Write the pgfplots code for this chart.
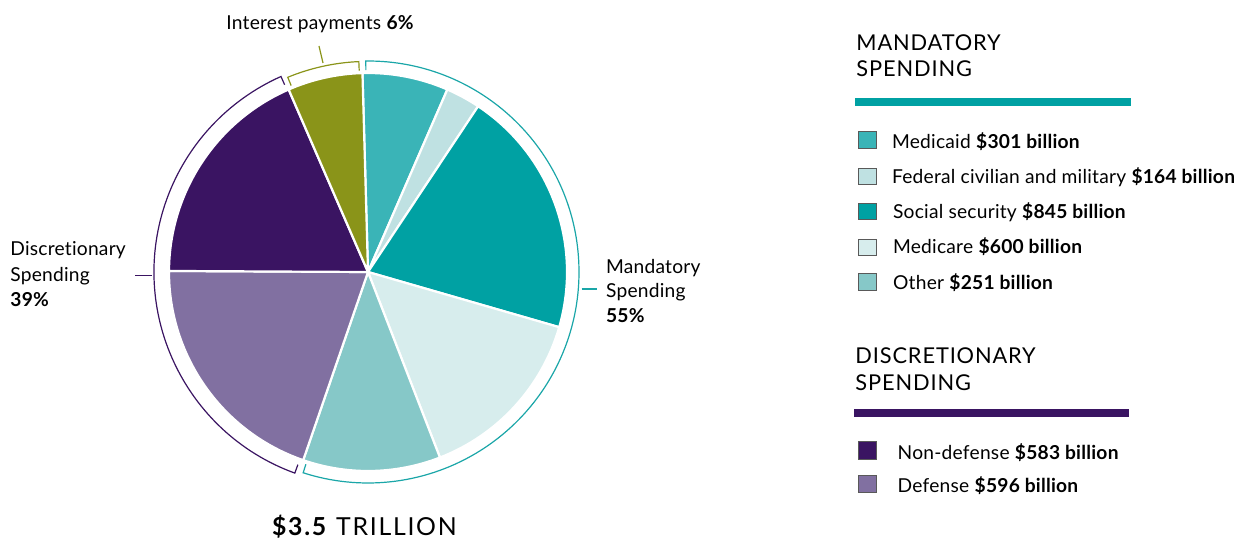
\documentclass[border=0pt]{standalone}
\usepackage{pgfplots}
\pgfplotsset{compat=1.18}
\usepackage{fontspec}
\setmainfont{Lato}[Ligatures={NoCommon}]
\newfontfamily\legfont{Lato}[LetterSpace=1.2, Ligatures={NoCommon}]
\newfontfamily\headfont{Lato}[LetterSpace=4, Ligatures={NoCommon}]
\newfontfamily\titlefont{Lato}[LetterSpace=7, Ligatures={NoCommon}]
\definecolor{cMedicaid}{HTML}{3AB4B7}
\definecolor{cFederal}{HTML}{BFE1E2}
\definecolor{cSocial}{HTML}{00A1A3}
\definecolor{cMedicare}{HTML}{D7EDED}
\definecolor{cOther}{HTML}{86C8C8}
\definecolor{cNonDef}{HTML}{3A1462}
\definecolor{cDef}{HTML}{8170A1}
\definecolor{cInterest}{HTML}{8A9419}
\definecolor{cTealLine}{HTML}{1AA6A8}
\definecolor{cText}{HTML}{262324}
% slice: start angle, end angle (as drawn), colour
\newcommand{\slice}[3]{\fill[#3, draw=white, line width=1.1pt] (axis cs:368,272) -- ++(#1:99.5pt) arc[start angle=#1, end angle=#2, radius=99.5pt] -- cycle;}
% bracket: start, end, radius(pt), colour
\newcommand{\bracket}[4]{\draw[#4, line width=0.6pt] (axis cs:368,272) ++(#1:{#3-4.5pt}) -- ++(#1:4.5pt) arc[start angle=#1, end angle=#2, radius=#3] -- ++(#2:-4.5pt);}
\newcommand{\legsq}[3]{\filldraw[fill=#3, draw=black!65, line width=0.4pt] (axis cs:858.5,#1) rectangle (axis cs:876,#2);}
\tikzset{lbl/.style={anchor=base west, inner sep=0pt, font=\legfont\fontsize{9.6pt}{11pt}\selectfont},
  hdr/.style={anchor=base west, inner sep=0pt, font=\headfont\fontsize{10.9pt}{13pt}\selectfont}}
\begin{document}
\begin{tikzpicture}
\useasboundingbox (0,0) rectangle (620.5pt,269.5pt);
\begin{axis}[at={(0,0)}, anchor=south west, x=0.5pt, y=0.5pt,
  xmin=0, xmax=1241, ymin=0, ymax=539, y dir=reverse,
  hide axis, clip=false,
  every node/.append style={text=cText}]
% pie slices (start angle, end angle)
\slice{91.6}{66.5}{cMedicaid}
\slice{66.5}{56.4}{cFederal}
\slice{56.4}{-16.1}{cSocial}
\slice{-16.1}{-68.8}{cMedicare}
\slice{-68.8}{-109}{cOther}
\slice{-109}{-180.3}{cDef}
\slice{179.7}{113.5}{cNonDef}
\slice{113.5}{91.6}{cInterest}
% brackets
\bracket{90.6}{-107.9}{105.5pt}{cTealLine}
\bracket{112.4}{92.5}{105.3pt}{cInterest}
\bracket{250}{114}{107pt}{cNonDef}
\draw[cTealLine, line width=0.6pt] (axis cs:581.7,289) -- (axis cs:597,289);
\draw[cNonDef, line width=0.6pt] (axis cs:135,275.7) -- (axis cs:152,275.7);
\draw[cInterest, line width=0.6pt] (axis cs:319,46) -- (axis cs:323,63);
% labels
\node[lbl] at (axis cs:226,29.3) {Interest payments \textbf{6\%}};
\node[lbl] at (axis cs:10,256) {Discretionary};
\node[lbl] at (axis cs:10,282) {Spending};
\node[lbl] at (axis cs:10,307) {\textbf{39\%}};
\node[lbl] at (axis cs:605.7,274) {Mandatory};
\node[lbl] at (axis cs:605.7,297.5) {Spending};
\node[lbl] at (axis cs:605.7,322.5) {\textbf{55\%}};
\node[anchor=base west, inner sep=0pt, font=\titlefont\fontsize{12.4pt}{14pt}\selectfont] at (axis cs:271.7,535) {\textbf{\$3.5} TRILLION};
% legend: mandatory
\node[hdr] at (axis cs:856,50.7) {MANDATORY};
\node[hdr] at (axis cs:856,76.7) {SPENDING};
\fill[cSocial] (axis cs:855,98.3) rectangle (axis cs:1130.7,106);
\legsq{131.7}{148.3}{cMedicaid}
\legsq{168}{184.5}{cFederal}
\legsq{203}{219.5}{cSocial}
\legsq{239}{255.5}{cMedicare}
\legsq{273.5}{290}{cOther}
\node[lbl] at (axis cs:891.7,148.3) {Medicaid \textbf{\$301 billion}};
\node[lbl] at (axis cs:891.7,183.3) {Federal civilian and military \textbf{\$164 billion}};
\node[lbl] at (axis cs:892.7,218.3) {Social security \textbf{\$845 billion}};
\node[lbl] at (axis cs:892.7,254) {Medicare \textbf{\$600 billion}};
\node[lbl] at (axis cs:892.7,289.3) {Other \textbf{\$251 billion}};
% legend: discretionary
\node[hdr] at (axis cs:855,364) {DISCRETIONARY};
\node[hdr] at (axis cs:855,390) {SPENDING};
\fill[cNonDef] (axis cs:854,409) rectangle (axis cs:1129,416.7);
\legsq{441.7}{459.3}{cNonDef}
\legsq{475}{492.7}{cDef}
\node[lbl] at (axis cs:897.3,459.3) {Non-defense \textbf{\$583 billion}};
\node[lbl] at (axis cs:897.3,492.7) {Defense \textbf{\$596 billion}};
\end{axis}
\end{tikzpicture}
\end{document}
